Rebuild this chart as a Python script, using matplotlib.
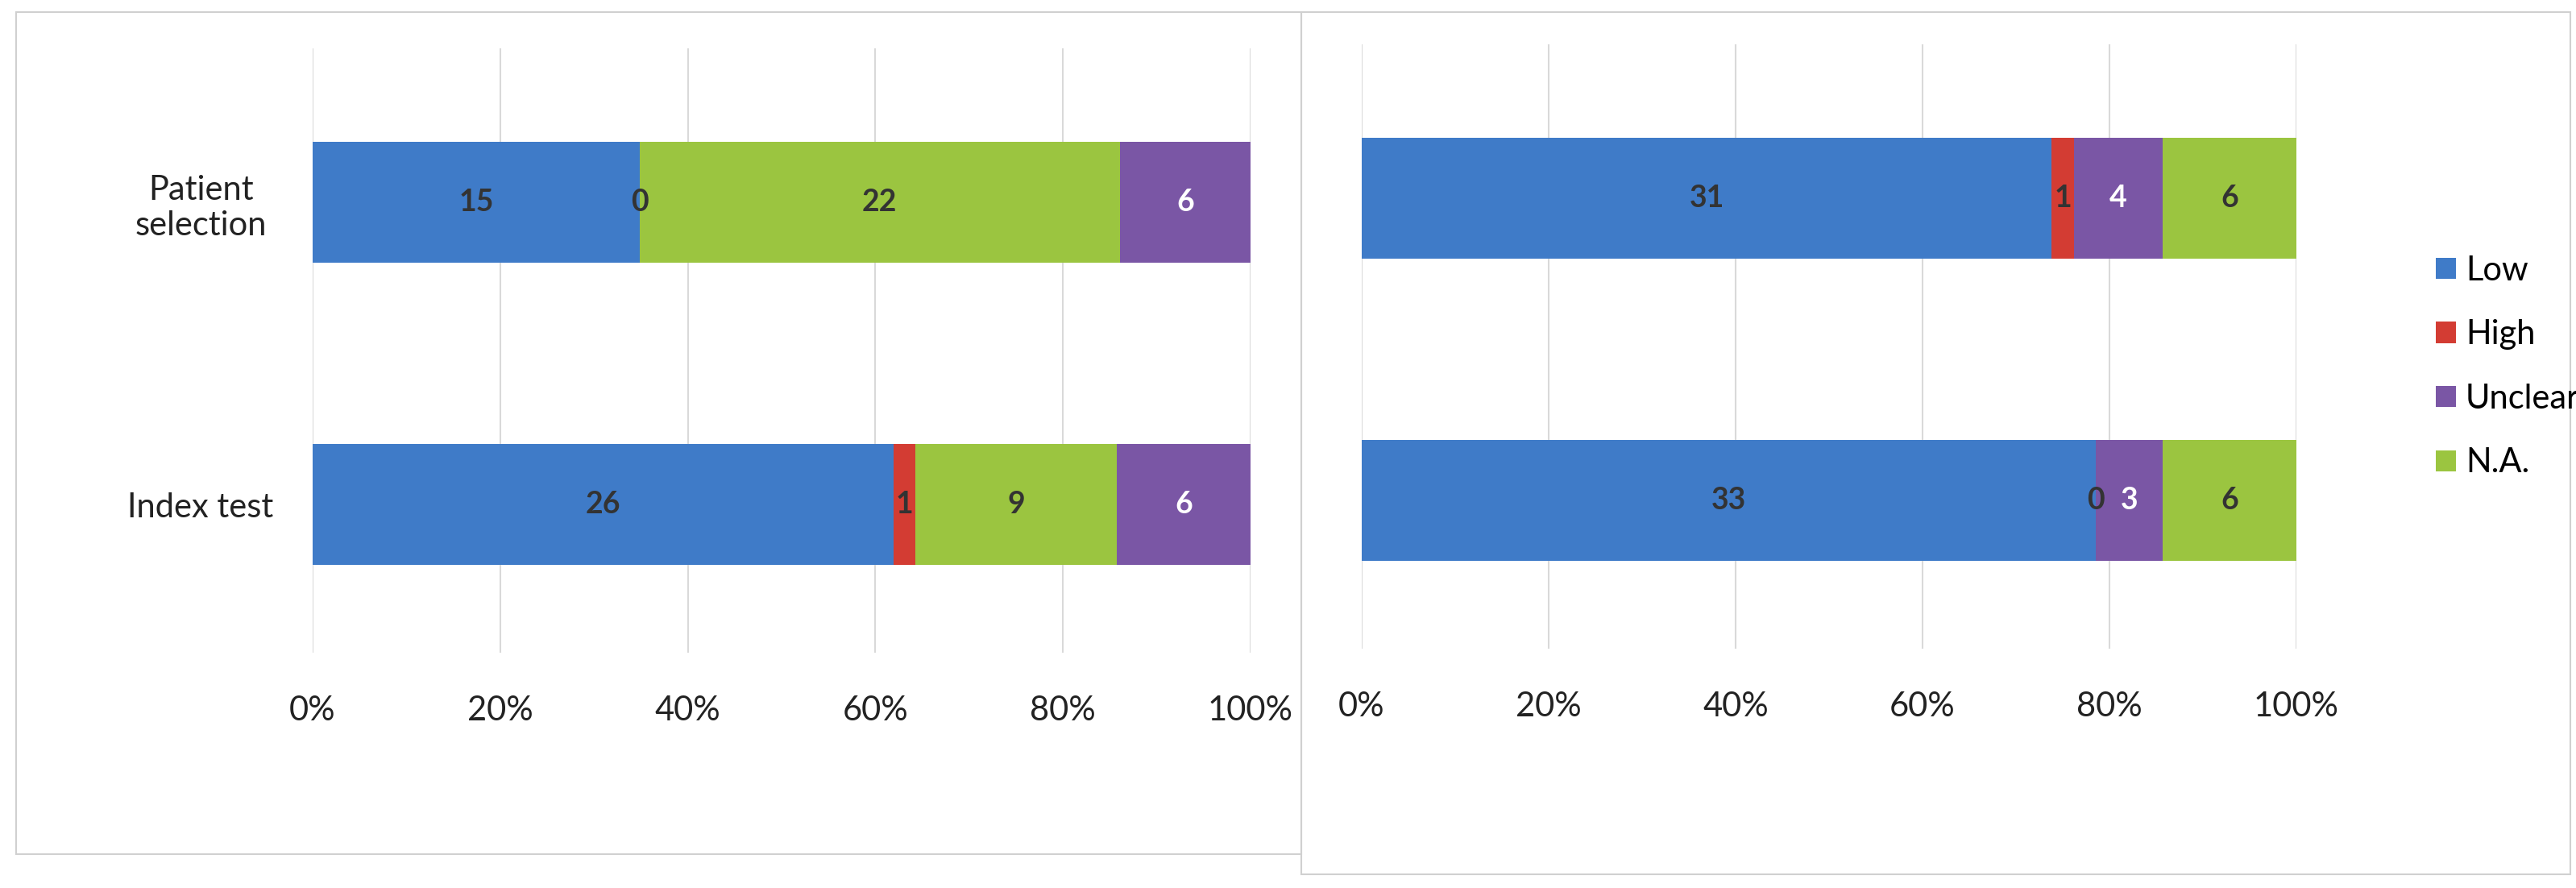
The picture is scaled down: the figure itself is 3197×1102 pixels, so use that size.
import matplotlib
matplotlib.use("Agg")
import matplotlib.pyplot as plt
from matplotlib.patches import Rectangle
import numpy as np

categories = ["Patient selection", "Index test"]
# left panel (order: Low, High, N.A., Unclear)
left_series = ["Low", "High", "N.A.", "Unclear"]
left_values = {"Low": [15, 26], "High": [0, 1], "N.A.": [22, 9], "Unclear": [6, 6]}
# right panel (order: Low, High, Unclear, N.A.)
right_series = ["Low", "High", "Unclear", "N.A."]
right_values = {"Low": [31, 33], "High": [1, 0], "Unclear": [4, 3], "N.A.": [6, 6]}
tick_labels = ["0%", "20%", "40%", "60%", "80%", "100%"]

colors = {"Low": "#3F7BC8", "High": "#D33C33", "Unclear": "#7A56A5", "N.A.": "#9BC540"}
label_colors = {"Low": "#333333", "High": "#333333", "Unclear": "white", "N.A.": "#333333"}

W, H = 3197, 1102
plt.rcParams['font.family'] = ['Lato', 'DejaVu Sans']
fig = plt.figure(figsize=(W/100, H/100), dpi=100)

def px(x0, y0, x1, y1):
    return [x0/W, 1-y1/H, (x1-x0)/W, (y1-y0)/H]

fig.patches.append(Rectangle((20/W, 1-1060/H), (1615-20)/W, (1060-15)/H, transform=fig.transFigure,
                             fill=False, edgecolor="#d0d0d0", lw=1.5))
fig.patches.append(Rectangle((1615/W, 1-1085/H), (3190-1615)/W, (1085-15)/H, transform=fig.transFigure,
                             fill=False, edgecolor="#d0d0d0", lw=1.5))

def draw(ax, series, values, show_cats):
    data = np.array([values[s] for s in series], dtype=float)
    totals = data.sum(axis=0)
    pct = data / totals * 100
    ypos = np.arange(len(categories))
    left = np.zeros(len(categories))
    for i, s in enumerate(series):
        ax.barh(ypos, pct[i], left=left, height=0.4, color=colors[s],
                edgecolor="none", zorder=3, label=s)
        for j in range(len(categories)):
            ax.text(float(left[j] + pct[i][j] / 2), float(ypos[j]), f"{int(data[i][j])}",
                    ha="center", va="center", fontsize=27, fontweight="bold",
                    color=label_colors[s], zorder=4)
        left = left + pct[i]
    ax.set_xlim(0, 100)
    ax.set_ylim(1.49, -0.51)
    ax.set_xticks(np.linspace(0, 100, 6))
    ax.set_xticklabels(tick_labels, fontsize=30, color="#222222")
    ax.tick_params(axis="x", length=0, pad=38)
    ax.grid(axis="x", color="#d9d9d9", lw=1.5, zorder=0)
    for sp in ax.spines.values():
        sp.set_visible(False)
    ax.set_yticks(ypos)
    if show_cats:
        ax.set_yticklabels(["Patient\nselection", "Index test"], fontsize=30, color="#222222",
                           ha="center")
        ax.tick_params(axis="y", length=0, pad=100)
    else:
        ax.set_yticklabels([])
        ax.tick_params(axis="y", length=0)

ax1 = fig.add_axes(px(388, 60, 1552, 810))
draw(ax1, left_series, left_values, True)
ax2 = fig.add_axes(px(1690, 55, 2850, 805))
draw(ax2, right_series, right_values, False)

handles, labels = ax2.get_legend_handles_labels()
fig.legend(handles, labels, loc="center left", bbox_to_anchor=(2985/W, 1-455/H),
           frameon=False, fontsize=30, handlelength=0.6, handleheight=0.6,
           labelspacing=1.0, handletextpad=0.3)

fig.savefig("out.png", dpi=100)
